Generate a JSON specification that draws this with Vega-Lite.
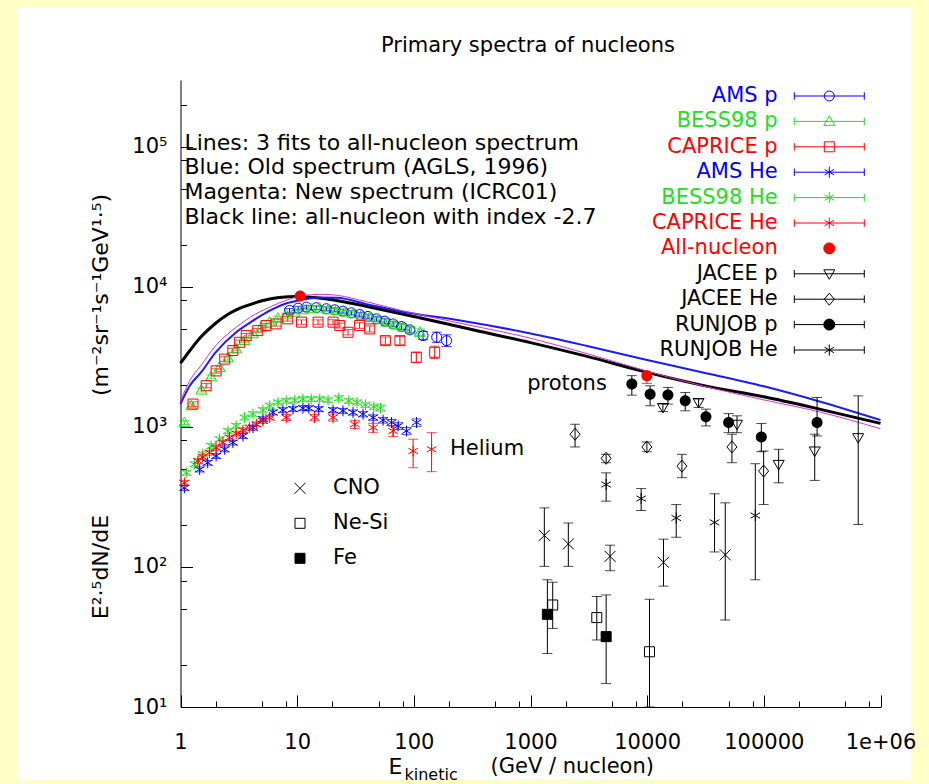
{
  "$schema": "https://vega.github.io/schema/vega-lite/v6.json",
  "width": 894,
  "height": 771,
  "autosize": {"type": "none"},
  "padding": {"left": 17, "top": 8, "right": 18, "bottom": 5},
  "background": "#ffffc6",
  "title": {
    "text": "Primary spectra of nucleons",
    "anchor": "middle",
    "frame": "group",
    "orient": "top",
    "offset": -69,
    "dx": 64,
    "baseline": "bottom",
    "fontSize": 21,
    "fontWeight": "normal",
    "font": "DejaVu Sans",
    "color": "black"
  },
  "config": {
    "view": {"fill": "white", "stroke": null},
    "font": "DejaVu Sans",
    "axis": {
      "grid": false,
      "domainColor": "black",
      "domainWidth": 1,
      "tickColor": "black",
      "tickWidth": 1,
      "labelColor": "black",
      "labelFont": "DejaVu Sans",
      "labelFontSize": 21,
      "titleColor": "black",
      "titleFont": "DejaVu Sans",
      "titleFontSize": 21,
      "titleFontWeight": "normal"
    },
    "legend": {
      "labelFont": "DejaVu Sans",
      "labelFontSize": 21,
      "labelColor": "black",
      "labelLimit": 400,
      "padding": 0,
      "symbolStrokeWidth": 1
    }
  },
  "datasets": {
    "fits": [
      {"fit": "all", "E": 1, "v": 2850}, {"fit": "all", "E": 1.2, "v": 3500}, {"fit": "all", "E": 1.5, "v": 4400},
      {"fit": "all", "E": 2, "v": 5500}, {"fit": "all", "E": 2.5, "v": 6300}, {"fit": "all", "E": 3, "v": 6850},
      {"fit": "all", "E": 4, "v": 7500}, {"fit": "all", "E": 5, "v": 7950}, {"fit": "all", "E": 7, "v": 8400},
      {"fit": "all", "E": 10, "v": 8550}, {"fit": "all", "E": 14, "v": 8400}, {"fit": "all", "E": 20, "v": 8100},
      {"fit": "all", "E": 30, "v": 7600}, {"fit": "all", "E": 50, "v": 6950}, {"fit": "all", "E": 100, "v": 6150},
      {"fit": "all", "E": 300, "v": 5000}, {"fit": "all", "E": 1000, "v": 4000}, {"fit": "all", "E": 3000, "v": 3200},
      {"fit": "all", "E": 10000, "v": 2450}, {"fit": "all", "E": 30000, "v": 1980}, {"fit": "all", "E": 100000, "v": 1640},
      {"fit": "all", "E": 300000, "v": 1340}, {"fit": "all", "E": 1000000, "v": 1060},
      {"fit": "old", "E": 1, "v": 1460}, {"fit": "old", "E": 1.2, "v": 1970}, {"fit": "old", "E": 1.5, "v": 2450},
      {"fit": "old", "E": 2, "v": 3400}, {"fit": "old", "E": 3, "v": 4740}, {"fit": "old", "E": 4, "v": 5600},
      {"fit": "old", "E": 6, "v": 6850}, {"fit": "old", "E": 8, "v": 7600}, {"fit": "old", "E": 11, "v": 8100},
      {"fit": "old", "E": 16, "v": 8400}, {"fit": "old", "E": 22, "v": 8350}, {"fit": "old", "E": 40, "v": 7500},
      {"fit": "old", "E": 80, "v": 6650}, {"fit": "old", "E": 250, "v": 5750}, {"fit": "old", "E": 1000, "v": 4650},
      {"fit": "old", "E": 3000, "v": 3800}, {"fit": "old", "E": 10000, "v": 3000}, {"fit": "old", "E": 30000, "v": 2450},
      {"fit": "old", "E": 100000, "v": 1950}, {"fit": "old", "E": 300000, "v": 1520}, {"fit": "old", "E": 1000000, "v": 1120},
      {"fit": "new", "E": 1, "v": 1530}, {"fit": "new", "E": 1.2, "v": 2140}, {"fit": "new", "E": 1.5, "v": 2750},
      {"fit": "new", "E": 2, "v": 3800}, {"fit": "new", "E": 3, "v": 5150}, {"fit": "new", "E": 4, "v": 6100},
      {"fit": "new", "E": 6, "v": 7250}, {"fit": "new", "E": 8, "v": 8000}, {"fit": "new", "E": 11, "v": 8650},
      {"fit": "new", "E": 16, "v": 8850}, {"fit": "new", "E": 22, "v": 8700}, {"fit": "new", "E": 40, "v": 7800},
      {"fit": "new", "E": 80, "v": 6750}, {"fit": "new", "E": 250, "v": 5500}, {"fit": "new", "E": 1000, "v": 4300},
      {"fit": "new", "E": 3000, "v": 3350}, {"fit": "new", "E": 10000, "v": 2500}, {"fit": "new", "E": 30000, "v": 1960},
      {"fit": "new", "E": 100000, "v": 1560}, {"fit": "new", "E": 300000, "v": 1280}, {"fit": "new", "E": 1000000, "v": 970}
    ],
    "pts": [
      {"s": "AMS p", "E": 8.6, "v": 6790, "lo": 6580, "hi": 7000},
      {"s": "AMS p", "E": 10.2, "v": 7050, "lo": 6835, "hi": 7265},
      {"s": "AMS p", "E": 12, "v": 7170, "lo": 6950, "hi": 7390},
      {"s": "AMS p", "E": 14.6, "v": 7100, "lo": 6880, "hi": 7320},
      {"s": "AMS p", "E": 17.8, "v": 6980, "lo": 6760, "hi": 7200},
      {"s": "AMS p", "E": 21, "v": 6860, "lo": 6640, "hi": 7080},
      {"s": "AMS p", "E": 24.7, "v": 6710, "lo": 6490, "hi": 6930},
      {"s": "AMS p", "E": 29.2, "v": 6530, "lo": 6310, "hi": 6750},
      {"s": "AMS p", "E": 34.4, "v": 6350, "lo": 6130, "hi": 6570},
      {"s": "AMS p", "E": 40.5, "v": 6150, "lo": 5925, "hi": 6375},
      {"s": "AMS p", "E": 47.9, "v": 5910, "lo": 5685, "hi": 6135},
      {"s": "AMS p", "E": 56.4, "v": 5690, "lo": 5460, "hi": 5920},
      {"s": "AMS p", "E": 66.4, "v": 5440, "lo": 5205, "hi": 5675},
      {"s": "AMS p", "E": 78.4, "v": 5210, "lo": 4965, "hi": 5455},
      {"s": "AMS p", "E": 92.4, "v": 4930, "lo": 4680, "hi": 5180},
      {"s": "AMS p", "E": 120, "v": 4490, "lo": 4200, "hi": 4800},
      {"s": "AMS p", "E": 157, "v": 4370, "lo": 4000, "hi": 4750},
      {"s": "AMS p", "E": 191, "v": 4130, "lo": 3750, "hi": 4550},
      {"s": "BESS98 p", "E": 1.08, "v": 1074, "lo": 1040, "hi": 1110},
      {"s": "BESS98 p", "E": 1.24, "v": 1416, "lo": 1370, "hi": 1460},
      {"s": "BESS98 p", "E": 1.51, "v": 1832, "lo": 1775, "hi": 1890},
      {"s": "BESS98 p", "E": 1.83, "v": 2280, "lo": 2210, "hi": 2350},
      {"s": "BESS98 p", "E": 2.16, "v": 2661, "lo": 2580, "hi": 2745},
      {"s": "BESS98 p", "E": 2.55, "v": 3105, "lo": 3010, "hi": 3200},
      {"s": "BESS98 p", "E": 3.0, "v": 3605, "lo": 3495, "hi": 3715},
      {"s": "BESS98 p", "E": 3.54, "v": 4134, "lo": 4010, "hi": 4260},
      {"s": "BESS98 p", "E": 4.18, "v": 4618, "lo": 4480, "hi": 4760},
      {"s": "BESS98 p", "E": 4.93, "v": 5152, "lo": 4995, "hi": 5310},
      {"s": "BESS98 p", "E": 5.81, "v": 5597, "lo": 5425, "hi": 5770},
      {"s": "BESS98 p", "E": 6.84, "v": 5980, "lo": 5800, "hi": 6165},
      {"s": "BESS98 p", "E": 8.07, "v": 6310, "lo": 6115, "hi": 6505},
      {"s": "BESS98 p", "E": 9.52, "v": 6600, "lo": 6400, "hi": 6800},
      {"s": "BESS98 p", "E": 11.2, "v": 6860, "lo": 6650, "hi": 7070},
      {"s": "BESS98 p", "E": 13.2, "v": 6980, "lo": 6765, "hi": 7195},
      {"s": "BESS98 p", "E": 15.6, "v": 7050, "lo": 6830, "hi": 7270},
      {"s": "BESS98 p", "E": 18.4, "v": 6860, "lo": 6645, "hi": 7075},
      {"s": "BESS98 p", "E": 21.7, "v": 6790, "lo": 6575, "hi": 7005},
      {"s": "BESS98 p", "E": 25.6, "v": 6600, "lo": 6385, "hi": 6815},
      {"s": "BESS98 p", "E": 30.1, "v": 6420, "lo": 6205, "hi": 6635},
      {"s": "BESS98 p", "E": 35.6, "v": 6250, "lo": 6035, "hi": 6465},
      {"s": "BESS98 p", "E": 41.9, "v": 6080, "lo": 5860, "hi": 6300},
      {"s": "BESS98 p", "E": 49.4, "v": 5820, "lo": 5600, "hi": 6040},
      {"s": "BESS98 p", "E": 58.3, "v": 5597, "lo": 5370, "hi": 5825},
      {"s": "BESS98 p", "E": 68.7, "v": 5380, "lo": 5150, "hi": 5610},
      {"s": "BESS98 p", "E": 81, "v": 5152, "lo": 4910, "hi": 5395},
      {"s": "BESS98 p", "E": 95.5, "v": 4930, "lo": 4680, "hi": 5180},
      {"s": "BESS98 p", "E": 112.6, "v": 4740, "lo": 4470, "hi": 5010},
      {"s": "CAPRICE p", "E": 1.28, "v": 1456, "lo": 1400, "hi": 1510},
      {"s": "CAPRICE p", "E": 1.66, "v": 1970, "lo": 1900, "hi": 2040},
      {"s": "CAPRICE p", "E": 2.02, "v": 2510, "lo": 2420, "hi": 2600},
      {"s": "CAPRICE p", "E": 2.39, "v": 3050, "lo": 2940, "hi": 3160},
      {"s": "CAPRICE p", "E": 2.81, "v": 3510, "lo": 3390, "hi": 3640},
      {"s": "CAPRICE p", "E": 3.21, "v": 4020, "lo": 3880, "hi": 4170},
      {"s": "CAPRICE p", "E": 3.66, "v": 4490, "lo": 4330, "hi": 4650},
      {"s": "CAPRICE p", "E": 4.6, "v": 4870, "lo": 4700, "hi": 5050},
      {"s": "CAPRICE p", "E": 5.4, "v": 5290, "lo": 5100, "hi": 5480},
      {"s": "CAPRICE p", "E": 6.6, "v": 5440, "lo": 5250, "hi": 5640},
      {"s": "CAPRICE p", "E": 8.3, "v": 5910, "lo": 5700, "hi": 6130},
      {"s": "CAPRICE p", "E": 10.9, "v": 5600, "lo": 5400, "hi": 5810},
      {"s": "CAPRICE p", "E": 15.1, "v": 5600, "lo": 5400, "hi": 5810},
      {"s": "CAPRICE p", "E": 20.3, "v": 5600, "lo": 5380, "hi": 5830},
      {"s": "CAPRICE p", "E": 23.2, "v": 5290, "lo": 5080, "hi": 5510},
      {"s": "CAPRICE p", "E": 27.3, "v": 4740, "lo": 4540, "hi": 4950},
      {"s": "CAPRICE p", "E": 34.3, "v": 5290, "lo": 5050, "hi": 5540},
      {"s": "CAPRICE p", "E": 41.9, "v": 5010, "lo": 4760, "hi": 5270},
      {"s": "CAPRICE p", "E": 57, "v": 4130, "lo": 3880, "hi": 4390},
      {"s": "CAPRICE p", "E": 76, "v": 4130, "lo": 3860, "hi": 4420},
      {"s": "CAPRICE p", "E": 105, "v": 3140, "lo": 2880, "hi": 3420},
      {"s": "CAPRICE p", "E": 151, "v": 3410, "lo": 3080, "hi": 3770},
      {"s": "AMS He", "E": 1.08, "v": 367, "lo": 352, "hi": 382},
      {"s": "AMS He", "E": 1.46, "v": 497, "lo": 477, "hi": 517},
      {"s": "AMS He", "E": 1.71, "v": 555, "lo": 533, "hi": 577},
      {"s": "AMS He", "E": 2.02, "v": 620, "lo": 595, "hi": 645},
      {"s": "AMS He", "E": 2.39, "v": 692, "lo": 664, "hi": 720},
      {"s": "AMS He", "E": 2.81, "v": 773, "lo": 742, "hi": 804},
      {"s": "AMS He", "E": 3.43, "v": 861, "lo": 826, "hi": 896},
      {"s": "AMS He", "E": 4.18, "v": 988, "lo": 948, "hi": 1028},
      {"s": "AMS He", "E": 5.09, "v": 1136, "lo": 1090, "hi": 1182},
      {"s": "AMS He", "E": 6.2, "v": 1268, "lo": 1217, "hi": 1319},
      {"s": "AMS He", "E": 7.55, "v": 1318, "lo": 1265, "hi": 1371},
      {"s": "AMS He", "E": 9.2, "v": 1340, "lo": 1286, "hi": 1394},
      {"s": "AMS He", "E": 11.2, "v": 1361, "lo": 1306, "hi": 1416},
      {"s": "AMS He", "E": 12.6, "v": 1361, "lo": 1306, "hi": 1416},
      {"s": "AMS He", "E": 15.3, "v": 1340, "lo": 1286, "hi": 1394},
      {"s": "AMS He", "E": 20.3, "v": 1318, "lo": 1265, "hi": 1371},
      {"s": "AMS He", "E": 24.7, "v": 1303, "lo": 1250, "hi": 1356},
      {"s": "AMS He", "E": 30.1, "v": 1268, "lo": 1215, "hi": 1321},
      {"s": "AMS He", "E": 36.7, "v": 1233, "lo": 1180, "hi": 1286},
      {"s": "AMS He", "E": 44.8, "v": 1167, "lo": 1115, "hi": 1219},
      {"s": "AMS He", "E": 54.5, "v": 1117, "lo": 1065, "hi": 1169},
      {"s": "AMS He", "E": 64.4, "v": 1075, "lo": 1020, "hi": 1130},
      {"s": "AMS He", "E": 73.3, "v": 1016, "lo": 960, "hi": 1072},
      {"s": "AMS He", "E": 86.5, "v": 935, "lo": 880, "hi": 990},
      {"s": "AMS He", "E": 105.5, "v": 1075, "lo": 1010, "hi": 1140},
      {"s": "BESS98 He", "E": 1.12, "v": 470, "lo": 451, "hi": 489},
      {"s": "BESS98 He", "E": 1.32, "v": 541, "lo": 519, "hi": 563},
      {"s": "BESS98 He", "E": 1.55, "v": 637, "lo": 611, "hi": 663},
      {"s": "BESS98 He", "E": 1.83, "v": 731, "lo": 702, "hi": 760},
      {"s": "BESS98 He", "E": 2.16, "v": 817, "lo": 784, "hi": 850},
      {"s": "BESS98 He", "E": 2.55, "v": 935, "lo": 898, "hi": 972},
      {"s": "BESS98 He", "E": 3.0, "v": 1016, "lo": 975, "hi": 1057},
      {"s": "BESS98 He", "E": 3.54, "v": 1167, "lo": 1120, "hi": 1214},
      {"s": "BESS98 He", "E": 4.18, "v": 1233, "lo": 1184, "hi": 1282},
      {"s": "BESS98 He", "E": 5.09, "v": 1318, "lo": 1265, "hi": 1371},
      {"s": "BESS98 He", "E": 5.81, "v": 1416, "lo": 1359, "hi": 1473},
      {"s": "BESS98 He", "E": 6.84, "v": 1494, "lo": 1434, "hi": 1554},
      {"s": "BESS98 He", "E": 8.07, "v": 1535, "lo": 1474, "hi": 1596},
      {"s": "BESS98 He", "E": 9.52, "v": 1550, "lo": 1488, "hi": 1612},
      {"s": "BESS98 He", "E": 11.2, "v": 1580, "lo": 1517, "hi": 1643},
      {"s": "BESS98 He", "E": 13.2, "v": 1580, "lo": 1517, "hi": 1643},
      {"s": "BESS98 He", "E": 15.6, "v": 1580, "lo": 1517, "hi": 1643},
      {"s": "BESS98 He", "E": 18.4, "v": 1550, "lo": 1488, "hi": 1612},
      {"s": "BESS98 He", "E": 22.7, "v": 1606, "lo": 1542, "hi": 1670},
      {"s": "BESS98 He", "E": 27.7, "v": 1535, "lo": 1470, "hi": 1600},
      {"s": "BESS98 He", "E": 32.6, "v": 1494, "lo": 1430, "hi": 1558},
      {"s": "BESS98 He", "E": 38.5, "v": 1439, "lo": 1375, "hi": 1503},
      {"s": "BESS98 He", "E": 45.4, "v": 1391, "lo": 1325, "hi": 1457},
      {"s": "BESS98 He", "E": 51.8, "v": 1361, "lo": 1295, "hi": 1427},
      {"s": "CAPRICE He", "E": 1.08, "v": 399, "lo": 383, "hi": 415},
      {"s": "CAPRICE He", "E": 1.41, "v": 570, "lo": 547, "hi": 593},
      {"s": "CAPRICE He", "E": 1.55, "v": 610, "lo": 586, "hi": 634},
      {"s": "CAPRICE He", "E": 1.77, "v": 655, "lo": 629, "hi": 681},
      {"s": "CAPRICE He", "E": 2.02, "v": 711, "lo": 683, "hi": 739},
      {"s": "CAPRICE He", "E": 2.31, "v": 773, "lo": 742, "hi": 804},
      {"s": "CAPRICE He", "E": 2.63, "v": 838, "lo": 804, "hi": 872},
      {"s": "CAPRICE He", "E": 3.0, "v": 896, "lo": 860, "hi": 932},
      {"s": "CAPRICE He", "E": 3.43, "v": 947, "lo": 909, "hi": 985},
      {"s": "CAPRICE He", "E": 3.91, "v": 988, "lo": 948, "hi": 1028},
      {"s": "CAPRICE He", "E": 4.47, "v": 1045, "lo": 1003, "hi": 1087},
      {"s": "CAPRICE He", "E": 5.09, "v": 1104, "lo": 1060, "hi": 1148},
      {"s": "CAPRICE He", "E": 5.81, "v": 1167, "lo": 1120, "hi": 1214},
      {"s": "CAPRICE He", "E": 8.07, "v": 1167, "lo": 1110, "hi": 1224},
      {"s": "CAPRICE He", "E": 14.1, "v": 1167, "lo": 1105, "hi": 1229},
      {"s": "CAPRICE He", "E": 20.3, "v": 1167, "lo": 1100, "hi": 1234},
      {"s": "CAPRICE He", "E": 31.2, "v": 1045, "lo": 975, "hi": 1115},
      {"s": "CAPRICE He", "E": 44.8, "v": 988, "lo": 915, "hi": 1061},
      {"s": "CAPRICE He", "E": 66.4, "v": 935, "lo": 855, "hi": 1015},
      {"s": "CAPRICE He", "E": 98.6, "v": 673, "lo": 511, "hi": 817},
      {"s": "CAPRICE He", "E": 142, "v": 692, "lo": 479, "hi": 910},
      {"s": "All-nucleon", "E": 10.6, "v": 8600},
      {"s": "All-nucleon", "E": 9940, "v": 2323, "lo": 2040, "hi": 2400},
      {"s": "JACEE p", "E": 13640, "v": 1375, "lo": 1289, "hi": 1456},
      {"s": "JACEE p", "E": 27600, "v": 1494, "lo": 1375, "hi": 1580},
      {"s": "JACEE p", "E": 58900, "v": 1045, "lo": 910, "hi": 1200},
      {"s": "JACEE p", "E": 134000, "v": 540, "lo": 399, "hi": 692},
      {"s": "JACEE p", "E": 273000, "v": 673, "lo": 415, "hi": 887},
      {"s": "JACEE p", "E": 644000, "v": 838, "lo": 201, "hi": 1667},
      {"s": "JACEE He", "E": 2410, "v": 887, "lo": 719, "hi": 1045},
      {"s": "JACEE He", "E": 4450, "v": 597, "lo": 555, "hi": 637},
      {"s": "JACEE He", "E": 9940, "v": 719, "lo": 665, "hi": 780},
      {"s": "JACEE He", "E": 19860, "v": 525, "lo": 434, "hi": 637},
      {"s": "JACEE He", "E": 53300, "v": 719, "lo": 555, "hi": 887},
      {"s": "JACEE He", "E": 99600, "v": 484, "lo": 279, "hi": 673},
      {"s": "RUNJOB p", "E": 7390, "v": 2024, "lo": 1687, "hi": 2323},
      {"s": "RUNJOB p", "E": 10600, "v": 1714, "lo": 1416, "hi": 1967},
      {"s": "RUNJOB p", "E": 15060, "v": 1687, "lo": 1456, "hi": 1915},
      {"s": "RUNJOB p", "E": 21200, "v": 1535, "lo": 1303, "hi": 1762},
      {"s": "RUNJOB p", "E": 31900, "v": 1180, "lo": 1016, "hi": 1340},
      {"s": "RUNJOB p", "E": 49900, "v": 1075, "lo": 910, "hi": 1245},
      {"s": "RUNJOB p", "E": 95200, "v": 847, "lo": 665, "hi": 1057},
      {"s": "RUNJOB p", "E": 286000, "v": 1075, "lo": 861, "hi": 1622},
      {"s": "RUNJOB He", "E": 4450, "v": 388, "lo": 295, "hi": 470},
      {"s": "RUNJOB He", "E": 8880, "v": 308, "lo": 253, "hi": 363},
      {"s": "RUNJOB He", "E": 17740, "v": 224, "lo": 163, "hi": 279},
      {"s": "RUNJOB He", "E": 37800, "v": 208, "lo": 128, "hi": 333},
      {"s": "RUNJOB He", "E": 84500, "v": 233, "lo": 81, "hi": 546}
    ],
    "heavy": [
      {"s": "CNO", "E": 1314, "v": 168, "lo": 101, "hi": 264},
      {"s": "CNO", "E": 2110, "v": 146, "lo": 101, "hi": 206},
      {"s": "CNO", "E": 4810, "v": 119, "lo": 94, "hi": 143},
      {"s": "CNO", "E": 13800, "v": 108, "lo": 73, "hi": 158},
      {"s": "CNO", "E": 46700, "v": 122, "lo": 41.8, "hi": 287},
      {"s": "Ne-Si", "E": 1550, "v": 53.5, "lo": 36.4, "hi": 77.8},
      {"s": "Ne-Si", "E": 3700, "v": 43.5, "lo": 30.1, "hi": 61.5},
      {"s": "Ne-Si", "E": 10470, "v": 24.8, "lo": 10, "hi": 58.8},
      {"s": "Fe", "E": 1395, "v": 45.9, "lo": 24.1, "hi": 81},
      {"s": "Fe", "E": 4450, "v": 31.8, "lo": 14.7, "hi": 63.1}
    ]
  },
  "resolve": {
    "scale": {"shape": "independent", "stroke": "independent", "fill": "independent"},
    "axis": {"x": "independent", "y": "independent"}
  },
  "layer": [
    {
      "data": {"name": "fits"},
      "mark": {"type": "line", "interpolate": "monotone"},
      "encoding": {
        "x": {
          "field": "E", "type": "quantitative",
          "scale": {"type": "log", "domain": [1, 1000000], "range": [163.5, 863.5], "nice": false},
          "axis": {
            "orient": "bottom", "offset": -72,
            "values": [1, 10, 100, 1000, 10000, 100000, 1000000],
            "ticks": false, "tickSize": 0, "domain": true,
            "labelPadding": 24,
            "labelExpr": "datum.value >= 1000000 ? '1e+06' : format(datum.value, 'd')",
            "labelFlush": false, "labelOverlap": false, "labelBound": false,
            "title": "(GeV / nucleon)", "titleX": 473, "titleY": 59,
            "titleAlign": "left", "titleBaseline": "middle", "titleAngle": 0
          }
        },
        "y": {
          "field": "v", "type": "quantitative",
          "scale": {"type": "log", "domain": [10, 300000], "range": [699, 72], "nice": false},
          "axis": {
            "orient": "left", "offset": -163.5,
            "values": [10, 100, 1000, 10000, 100000],
            "ticks": false, "tickSize": 0, "domain": true,
            "labelPadding": 13.5,
            "labelExpr": "'10' + ['⁰','¹','²','³','⁴','⁵','⁶'][round(log(datum.value) / LN10)]",
            "labelFlush": false, "labelOverlap": false, "labelBound": false,
            "title": "E²·⁵dN/dE\u00a0\u00a0\u00a0\u00a0\u00a0\u00a0\u00a0\u00a0\u00a0\u00a0\u00a0\u00a0\u00a0\u00a0\u00a0\u00a0\u00a0(m⁻²sr⁻¹s⁻¹GeV¹·⁵)",
            "titleFontSize": 22,
            "titleX": -80, "titleY": 398, "titleAngle": 270,
            "titleAlign": "center", "titleBaseline": "middle"
          }
        },
        "stroke": {
          "field": "fit", "type": "nominal",
          "scale": {"domain": ["all", "old", "new"], "range": ["#000000", "#1a1aff", "#d633d6"]},
          "legend": null
        },
        "strokeWidth": {
          "field": "fit", "type": "ordinal",
          "scale": {"domain": ["all", "old", "new"], "range": [3, 1, 1]},
          "legend": null
        }
      }
    },
    {
      "data": {"name": "pts"},
      "transform": [{"filter": "isValid(datum.lo)"}],
      "mark": {"type": "errorbar", "ticks": true, "size": 10, "thickness": 1},
      "encoding": {
        "x": {
          "field": "E", "type": "quantitative",
          "scale": {"type": "log", "domain": [1, 1000000], "range": [163.5, 863.5], "nice": false},
          "axis": {
            "orient": "bottom", "offset": -72,
            "values": [2, 5, 8, 20, 50, 80, 200, 500, 800, 2000, 5000, 8000, 20000, 50000, 80000, 200000, 500000, 800000],
            "tickSize": -6, "labels": false, "domain": false,
            "title": "E", "titleX": 371, "titleY": 59, "titleFontSize": 22,
            "titleAlign": "left", "titleBaseline": "middle", "titleAngle": 0
          }
        },
        "y": {
          "field": "lo", "type": "quantitative",
          "scale": {"type": "log", "domain": [10, 300000], "range": [699, 72], "nice": false},
          "axis": {
            "orient": "left", "offset": -163.5,
            "values": [20, 50, 80, 200, 500, 800, 2000, 5000, 8000, 20000, 50000, 80000, 200000],
            "tickSize": -6, "labels": false, "domain": false, "title": null
          }
        },
        "y2": {"field": "hi"},
        "color": {
          "field": "s", "type": "nominal",
          "scale": {
            "domain": ["AMS p", "BESS98 p", "CAPRICE p", "AMS He", "BESS98 He", "CAPRICE He", "All-nucleon", "JACEE p", "JACEE He", "RUNJOB p", "RUNJOB He"],
            "range": ["#0000ff", "#22dd22", "#ff0000", "#0000ff", "#22dd22", "#ff0000", "#ff0000", "#000000", "#000000", "#000000", "#000000"]
          },
          "legend": null
        }
      }
    },
    {
      "data": {"name": "pts"},
      "layer": [
        {
          "transform": [{"filter": {"not": {"field": "s", "oneOf": ["All-nucleon", "RUNJOB p"]}}}],
          "mark": {"type": "point", "filled": false, "opacity": 1, "size": 100, "strokeWidth": 1},
          "encoding": {
            "x": {
              "field": "E", "type": "quantitative",
              "scale": {"type": "log", "domain": [1, 1000000], "range": [163.5, 863.5], "nice": false},
              "axis": {
                "orient": "top", "offset": -72,
                "values": [1, 10, 100, 1000, 10000, 100000, 1000000],
                "tickSize": -12, "labels": false, "domain": true, "title": null
              }
            },
            "y": {
              "field": "v", "type": "quantitative",
              "scale": {"type": "log", "domain": [10, 300000], "range": [699, 72], "nice": false},
              "axis": {
                "orient": "right", "offset": -30.5,
                "values": [10, 100, 1000, 10000, 100000],
                "tickSize": -12, "labels": false, "domain": true, "title": null
              }
            },
            "color": {"field": "s", "type": "nominal", "legend": null},
            "shape": {
              "field": "s", "type": "nominal",
              "scale": {
                "domain": ["AMS p", "BESS98 p", "CAPRICE p", "AMS He", "BESS98 He", "CAPRICE He", "All-nucleon", "JACEE p", "JACEE He", "RUNJOB p", "RUNJOB He"],
                "range": ["M1,0A1,1 0 1 1 -1,0A1,1 0 1 1 1,0Z", "M0,-1.1L1.1,0.8L-1.1,0.8Z", "M-1,-1H1V1H-1Z", "M0,-1.1V1.1M-0.95,-0.55L0.95,0.55M-0.95,0.55L0.95,-0.55", "M0,-1.1V1.1M-0.95,-0.55L0.95,0.55M-0.95,0.55L0.95,-0.55", "M0,-1.1V1.1M-0.95,-0.55L0.95,0.55M-0.95,0.55L0.95,-0.55", "M1.1,0A1.1,1.1 0 1 1 -1.1,0A1.1,1.1 0 1 1 1.1,0Z", "M0,1.1L1.1,-0.8L-1.1,-0.8Z", "M0,-1.2L1,0L0,1.2L-1,0Z", "M1.1,0A1.1,1.1 0 1 1 -1.1,0A1.1,1.1 0 1 1 1.1,0Z", "M0,-1.1V1.1M-0.95,-0.55L0.95,0.55M-0.95,0.55L0.95,-0.55"]
              },
              "legend": null
            }
          }
        },
        {
          "transform": [{"filter": {"field": "s", "oneOf": ["All-nucleon", "RUNJOB p"]}}],
          "mark": {"type": "point", "filled": true, "opacity": 1, "size": 100, "strokeWidth": 1},
          "encoding": {
            "x": {"field": "E", "type": "quantitative", "scale": {"type": "log", "domain": [1, 1000000], "range": [163.5, 863.5], "nice": false}, "axis": null},
            "y": {"field": "v", "type": "quantitative", "scale": {"type": "log", "domain": [10, 300000], "range": [699, 72], "nice": false}, "axis": null},
            "color": {"field": "s", "type": "nominal", "legend": null},
            "shape": {"field": "s", "type": "nominal", "legend": null}
          }
        }
      ]
    },
    {
      "data": {"name": "heavy"},
      "layer": [
        {
          "mark": {"type": "errorbar", "ticks": true, "size": 10, "thickness": 1, "color": "black"},
          "encoding": {
            "x": {
              "field": "E", "type": "quantitative",
              "scale": {"type": "log", "domain": [1, 1000000], "range": [163.5, 863.5], "nice": false},
              "axis": {
                "orient": "top", "offset": -72,
                "values": [2, 5, 8, 20, 50, 80, 200, 500, 800, 2000, 5000, 8000, 20000, 50000, 80000, 200000, 500000, 800000],
                "tickSize": -6, "labels": false, "domain": false, "title": null
              }
            },
            "y": {
              "field": "lo", "type": "quantitative",
              "scale": {"type": "log", "domain": [10, 300000], "range": [699, 72], "nice": false},
              "axis": {
                "orient": "right", "offset": -30.5,
                "values": [20, 50, 80, 200, 500, 800, 2000, 5000, 8000, 20000, 50000, 80000, 200000],
                "tickSize": -6, "labels": false, "domain": false, "title": null
              }
            },
            "y2": {"field": "hi"}
          }
        },
        {
          "mark": {"type": "point", "filled": true, "opacity": 1, "size": 100, "strokeWidth": 1, "stroke": "black"},
          "encoding": {
            "x": {"field": "E", "type": "quantitative", "scale": {"type": "log", "domain": [1, 1000000], "range": [163.5, 863.5], "nice": false}, "axis": null},
            "y": {"field": "v", "type": "quantitative", "scale": {"type": "log", "domain": [10, 300000], "range": [699, 72], "nice": false}, "axis": null},
            "shape": {
              "field": "s", "type": "nominal",
              "scale": {"domain": ["CNO", "Ne-Si", "Fe"], "range": ["M-1.1,-1.1L1.1,1.1M-1.1,1.1L1.1,-1.1", "M-1,-1H1V1H-1Z", "M-1,-1H1V1H-1Z"]},
              "legend": {
                "orient": "none", "legendX": 272.5, "legendY": 469.8,
                "title": null, "direction": "vertical", "columns": 1,
                "labelAlign": "left", "labelBaseline": "middle", "labelOffset": 22.5,
                "rowPadding": 13, "symbolSize": 100, "symbolStrokeWidth": 1,
                "symbolStrokeColor": "black", "symbolFillColor": "transparent", "symbolOpacity": 1
              }
            },
            "fill": {
              "field": "s", "type": "nominal",
              "scale": {"domain": ["CNO", "Ne-Si", "Fe"], "range": ["transparent", "transparent", "#000000"]},
              "legend": {
                "orient": "none", "legendX": 272.5, "legendY": 469.8,
                "title": null, "direction": "vertical", "columns": 1,
                "labelAlign": "left", "labelBaseline": "middle", "labelOffset": 22.5,
                "rowPadding": 13, "symbolSize": 100, "symbolStrokeWidth": 1,
                "symbolStrokeColor": "black", "symbolFillColor": "transparent", "symbolOpacity": 1
              }
            }
          }
        }
      ]
    },
    {
      "data": {"name": "pts"},
      "mark": {"type": "point", "filled": true, "opacity": 0, "size": 100, "strokeWidth": 1},
      "encoding": {
        "x": {
          "field": "E", "type": "quantitative",
          "scale": {"type": "log", "domain": [1, 1000000], "range": [163.5, 863.5], "nice": false},
          "axis": {
            "orient": "bottom", "offset": -72,
            "values": [1, 10, 100, 1000, 10000, 100000, 1000000],
            "tickSize": -12, "labels": false, "domain": false,
            "title": "kinetic", "titleX": 387, "titleY": 67, "titleFontSize": 16,
            "titleAlign": "left", "titleBaseline": "middle", "titleAngle": 0
          }
        },
        "y": {
          "field": "v", "type": "quantitative",
          "scale": {"type": "log", "domain": [10, 300000], "range": [699, 72], "nice": false},
          "axis": {
            "orient": "left", "offset": -163.5,
            "values": [10, 100, 1000, 10000, 100000],
            "tickSize": -12, "labels": false, "domain": false, "title": null
          }
        },
        "stroke": {
          "field": "s", "type": "nominal",
          "scale": {
            "domain": ["AMS p", "BESS98 p", "CAPRICE p", "AMS He", "BESS98 He", "CAPRICE He", "All-nucleon", "JACEE p", "JACEE He", "RUNJOB p", "RUNJOB He"],
            "range": ["#0000ff", "#22dd22", "#ff0000", "#0000ff", "#22dd22", "#ff0000", "#ff0000", "#000000", "#000000", "#000000", "#000000"]
          },
          "legend": {
            "orient": "none", "legendX": 801.8, "legendY": 77.5,
            "title": null, "direction": "vertical", "columns": 1,
            "labelAlign": "right", "labelBaseline": "middle", "labelOffset": -62.1,
            "rowPadding": 3.4, "symbolSize": 100, "symbolStrokeWidth": 1,
            "symbolFillColor": "transparent", "symbolOpacity": 1,
            "labelColor": {"expr": "indexof(['AMS p', 'AMS He'], datum.value) >= 0 ? '#0000ff' : indexof(['BESS98 p', 'BESS98 He'], datum.value) >= 0 ? '#22dd22' : indexof(['CAPRICE p', 'CAPRICE He', 'All-nucleon'], datum.value) >= 0 ? '#ff0000' : '#000000'"}
          }
        },
        "fill": {
          "field": "s", "type": "nominal",
          "scale": {
            "domain": ["AMS p", "BESS98 p", "CAPRICE p", "AMS He", "BESS98 He", "CAPRICE He", "All-nucleon", "JACEE p", "JACEE He", "RUNJOB p", "RUNJOB He"],
            "range": ["transparent", "transparent", "transparent", "transparent", "transparent", "transparent", "#ff0000", "transparent", "transparent", "#000000", "transparent"]
          },
          "legend": {
            "orient": "none", "legendX": 801.8, "legendY": 77.5,
            "title": null, "direction": "vertical", "columns": 1,
            "labelAlign": "right", "labelBaseline": "middle", "labelOffset": -62.1,
            "rowPadding": 3.4, "symbolSize": 100, "symbolStrokeWidth": 1,
            "symbolFillColor": "transparent", "symbolOpacity": 1,
            "labelColor": {"expr": "indexof(['AMS p', 'AMS He'], datum.value) >= 0 ? '#0000ff' : indexof(['BESS98 p', 'BESS98 He'], datum.value) >= 0 ? '#22dd22' : indexof(['CAPRICE p', 'CAPRICE He', 'All-nucleon'], datum.value) >= 0 ? '#ff0000' : '#000000'"}
          }
        },
        "shape": {
          "field": "s", "type": "nominal",
          "scale": {
            "domain": ["AMS p", "BESS98 p", "CAPRICE p", "AMS He", "BESS98 He", "CAPRICE He", "All-nucleon", "JACEE p", "JACEE He", "RUNJOB p", "RUNJOB He"],
            "range": [
              "M-7,0H7M-7,-0.75V0.75M7,-0.75V0.75M1,0A1,1 0 1 1 -1,0A1,1 0 1 1 1,0Z",
              "M-7,0H7M-7,-0.75V0.75M7,-0.75V0.75M0,-1.1L1.1,0.8L-1.1,0.8Z",
              "M-7,0H7M-7,-0.75V0.75M7,-0.75V0.75M-1,-1H1V1H-1Z",
              "M-7,0H7M-7,-0.75V0.75M7,-0.75V0.75M0,-1.1V1.1M-0.95,-0.55L0.95,0.55M-0.95,0.55L0.95,-0.55",
              "M-7,0H7M-7,-0.75V0.75M7,-0.75V0.75M0,-1.1V1.1M-0.95,-0.55L0.95,0.55M-0.95,0.55L0.95,-0.55",
              "M-7,0H7M-7,-0.75V0.75M7,-0.75V0.75M0,-1.1V1.1M-0.95,-0.55L0.95,0.55M-0.95,0.55L0.95,-0.55",
              "M1.1,0A1.1,1.1 0 1 1 -1.1,0A1.1,1.1 0 1 1 1.1,0Z",
              "M-7,0H7M-7,-0.75V0.75M7,-0.75V0.75M0,1.1L1.1,-0.8L-1.1,-0.8Z",
              "M-7,0H7M-7,-0.75V0.75M7,-0.75V0.75M0,-1.2L1,0L0,1.2L-1,0Z",
              "M-7,0H7M-7,-0.75V0.75M7,-0.75V0.75M1.1,0A1.1,1.1 0 1 1 -1.1,0A1.1,1.1 0 1 1 1.1,0Z",
              "M-7,0H7M-7,-0.75V0.75M7,-0.75V0.75M0,-1.1V1.1M-0.95,-0.55L0.95,0.55M-0.95,0.55L0.95,-0.55"
            ]
          },
          "legend": {
            "orient": "none", "legendX": 801.8, "legendY": 77.5,
            "title": null, "direction": "vertical", "columns": 1,
            "labelAlign": "right", "labelBaseline": "middle", "labelOffset": -62.1,
            "rowPadding": 3.4, "symbolSize": 100, "symbolStrokeWidth": 1,
            "symbolFillColor": "transparent", "symbolOpacity": 1,
            "labelColor": {"expr": "indexof(['AMS p', 'AMS He'], datum.value) >= 0 ? '#0000ff' : indexof(['BESS98 p', 'BESS98 He'], datum.value) >= 0 ? '#22dd22' : indexof(['CAPRICE p', 'CAPRICE He', 'All-nucleon'], datum.value) >= 0 ? '#ff0000' : '#000000'"}
          }
        }
      }
    },
    {
      "data": {"values": [{}]},
      "layer": [
        {
          "mark": {"type": "text", "align": "left", "baseline": "alphabetic", "fontSize": 22, "lineHeight": 24.7, "color": "black"},
          "encoding": {
            "x": {"datum": 1.08, "type": "quantitative", "scale": {"type": "log", "domain": [1, 1000000], "range": [163.5, 863.5], "nice": false}, "axis": null},
            "y": {"datum": 95200, "type": "quantitative", "scale": {"type": "log", "domain": [10, 300000], "range": [699, 72], "nice": false}, "axis": null},
            "text": {"value": ["Lines: 3 fits to all-nucleon spectrum", "Blue: Old spectrum (AGLS, 1996)", "Magenta: New spectrum (ICRC01)", "Black line: all-nucleon with index -2.7"]}
          }
        },
        {
          "mark": {"type": "text", "align": "right", "baseline": "middle", "fontSize": 21, "color": "black"},
          "encoding": {
            "x": {"datum": 4510, "type": "quantitative", "scale": {"type": "log", "domain": [1, 1000000], "range": [163.5, 863.5], "nice": false}, "axis": null},
            "y": {"datum": 2030, "type": "quantitative", "scale": {"type": "log", "domain": [10, 300000], "range": [699, 72], "nice": false}, "axis": null},
            "text": {"value": "protons"}
          }
        },
        {
          "mark": {"type": "text", "align": "left", "baseline": "middle", "fontSize": 21, "color": "black"},
          "encoding": {
            "x": {"datum": 204, "type": "quantitative", "scale": {"type": "log", "domain": [1, 1000000], "range": [163.5, 863.5], "nice": false}, "axis": null},
            "y": {"datum": 696, "type": "quantitative", "scale": {"type": "log", "domain": [10, 300000], "range": [699, 72], "nice": false}, "axis": null},
            "text": {"value": "Helium"}
          }
        }
      ]
    }
  ]
}
